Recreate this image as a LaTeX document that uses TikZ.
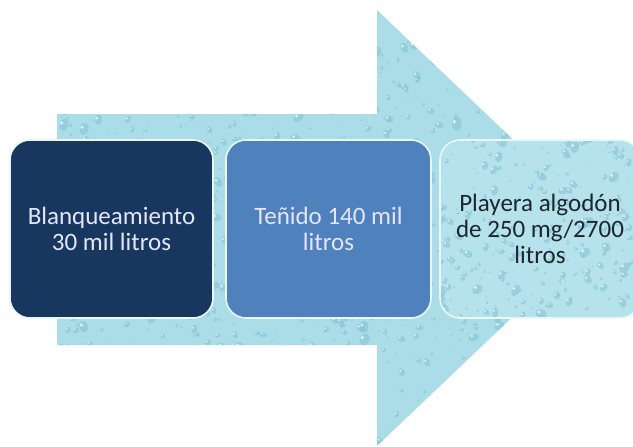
\documentclass[tikz,border=0pt]{standalone}
\usepackage{fontspec}
\setmainfont{Carlito}
\begin{document}
\begin{tikzpicture}[x=1pt,y=-1pt]
\definecolor{water}{HTML}{AADDE8}
\definecolor{waterdk}{HTML}{7FC0D3}
\definecolor{navybox}{HTML}{17375E}
\definecolor{bluebox}{HTML}{4F81BD}
\definecolor{boxedge}{HTML}{EAF6F9}
\definecolor{darktext}{HTML}{1C2630}
\tikzset{
  stepbox/.style={rounded corners=20pt, minimum width=203pt, minimum height=178pt,
    draw=boxedge, line width=1.6pt, align=center, inner sep=0pt,
    font=\fontsize{25}{26}\selectfont},
  drop/.style={fill=waterdk, opacity=0.5},
  shine/.style={fill=white, opacity=0.7}
}
\newcommand\mydrops[5]{% count, x0, width, y0, height
  \foreach \i in {1,...,#1} {
    \pgfmathsetmacro\dx{#2+rnd*#3}
    \pgfmathsetmacro\dy{#4+rnd*#5}
    \pgfmathsetmacro\dr{1.2+rnd*rnd*6}
    \pgfmathsetmacro\da{rnd*180}
    \fill[drop, rotate around={\da:(\dx,\dy)}] (\dx,\dy) ellipse ({\dr} and {\dr*0.7});
    \fill[shine] (\dx-\dr*0.35,\dy-\dr*0.3) circle ({\dr*0.28});
  }}
\useasboundingbox (0,0) rectangle (633,447);
\fill[white] (0,0) rectangle (633,447);
% big arrow
\path[fill=water] (57,114) -- (377,114) -- (377,10) -- (606,228) -- (377,446) -- (377,345) -- (57,345) -- cycle;
\begin{scope}
  \clip (57,114) -- (377,114) -- (377,10) -- (606,228) -- (377,446) -- (377,345) -- (57,345) -- cycle;
  \pgfmathsetseed{7}
  \mydrops{1100}{57}{550}{10}{437}
\end{scope}
% boxes
\node[stepbox, fill=navybox, text=white!90!blue] (b1) at (111.5,229) {Blanqueamiento\\30 mil litros};
\node[stepbox, minimum width=205pt, fill=bluebox, text=white!90!blue] (b2) at (328.5,229) {Teñido 140 mil\\litros};
\fill[water] [rounded corners=20pt] (440,140) rectangle (640,318);
\begin{scope}
  \clip[rounded corners=20pt] (440,140) rectangle (640,318);
  \fill[white, opacity=0.15] (440,140) rectangle (640,318);
  \pgfmathsetseed{23}
  \mydrops{260}{440}{200}{140}{178}
\end{scope}
\node[stepbox, minimum width=200pt, text=darktext] (b3) at (540,229) {Playera algodón\\de 250 mg/2700\\litros};
\end{tikzpicture}
\end{document}
